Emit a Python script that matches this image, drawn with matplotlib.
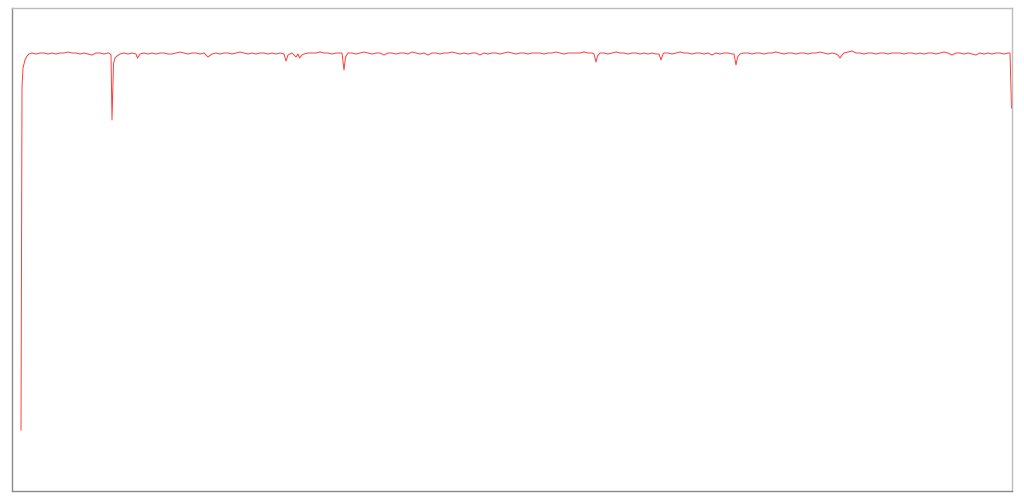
import numpy as np
import matplotlib
matplotlib.use("Agg")
import matplotlib.pyplot as plt

# signal trace (arbitrary units, x = sample position)
start_x = [9, 10, 11, 13, 15, 17]
start_y = [61, 404, 423, 431, 435, 437]

seg1_y = [438, 437, 438, 438, 437, 438, 437, 438, 438, 439,
          438, 438, 437, 438, 437, 436, 438, 438, 437, 438]          # 20..96
dip1_x = [97, 99, 100, 101.5, 103, 105]
dip1_y = [438, 436, 371, 427, 433, 435]
seg2_y = [437, 438, 437, 438]                                          # 108..120
dip2_x = [124, 125.5, 128]
dip2_y = [437, 433, 437]
seg3_y = [438, 437, 438, 437, 438, 438, 437, 437, 438, 439,
          438, 437, 438, 438, 437, 438]                                # 132..192
dip3_x = [196]
dip3_y = [434]
seg4_y = [437, 438, 437, 438, 438, 437, 438, 439, 438, 437,
          438, 437, 438, 438, 437, 438, 437, 438]                      # 200..268
dip4_x = [272, 274, 276, 280, 284, 286, 287.5, 290, 292, 296]
dip4_y = [437, 430, 436, 438, 434, 437, 433, 436, 437, 438]
seg5_y = [438, 438, 439, 438, 438, 437, 438, 438]                      # 300..328
dip5_x = [330, 332, 333.5, 336]
dip5_y = [438, 421, 434, 438]
seg6_y = [438, 437, 438, 439, 438, 437, 438, 438, 436, 438,
          438, 437, 438, 438, 437, 439, 438, 437, 438, 436,
          438, 438, 437, 438, 438, 439, 438, 437, 438, 437,
          438, 438, 436, 438, 437, 438, 438, 437, 438, 439,
          438, 437, 438, 438, 437, 438, 438, 438, 437, 438,
          438, 439, 438, 437, 438, 438, 438, 438, 439, 438,
          438]                                                         # 340..580
dip6_x = [582, 584, 585.5, 588]
dip6_y = [437, 429, 435, 438]
seg7_y = [438, 437, 438, 439, 438, 438, 437, 438, 438, 437,
          438, 437, 438, 437]                                          # 592..644
dip7_x = [647, 649, 651]
dip7_y = [437, 431, 437]
seg8_y = [438, 438, 437, 438, 439, 438, 438, 437, 438, 438,
          437, 438, 436, 438, 437, 438, 438, 437]                      # 652..720
dip8_x = [722, 724, 725.5, 728]
dip8_y = [437, 426, 434, 437]
seg9_y = [438, 438, 437, 438, 438, 437, 438, 438, 439, 438,
          437, 438, 438, 437, 438, 438, 437, 438, 438, 439,
          438, 437, 438, 437]                                          # 732..824
dip9_x = [826, 828, 830]
dip9_y = [436, 433, 436]
seg10_y = [438, 439, 440, 438, 438, 437, 438, 438, 437, 438,
           438, 437, 438, 438, 438, 437, 438, 438, 437, 438,
           437, 438, 438, 437, 438, 439, 438, 436, 438, 438,
           437, 438, 437, 436, 438, 437, 438, 437, 438, 438,
           437, 438]                                                   # 832..996
end_x = [998, 999.5]
end_y = [438, 383]

# (first x, values) for the evenly sampled stretches, step 4
pieces = [
    (start_x, start_y),
    (20, seg1_y), (dip1_x, dip1_y),
    (108, seg2_y), (dip2_x, dip2_y),
    (132, seg3_y), (dip3_x, dip3_y),
    (200, seg4_y), (dip4_x, dip4_y),
    (300, seg5_y), (dip5_x, dip5_y),
    (340, seg6_y), (dip6_x, dip6_y),
    (592, seg7_y), (dip7_x, dip7_y),
    (652, seg8_y), (dip8_x, dip8_y),
    (732, seg9_y), (dip9_x, dip9_y),
    (832, seg10_y), (end_x, end_y),
]

xs, ys = [], []
for px, vals in pieces:
    if np.isscalar(px):
        px = px + 4 * np.arange(len(vals))
    xs.extend(px)
    ys.extend(vals)

fig = plt.figure(figsize=(10.24, 5), dpi=100)
ax = fig.add_axes([12 / 1024, 9 / 500, 1000 / 1024, 483 / 500])
ax.plot(xs, ys, color='#ff3b3b', lw=0.7)
ax.set_xlim(0, 1000)
ax.set_ylim(0, 483)
ax.set_xticks([])
ax.set_yticks([])
for side in ['left', 'bottom']:
    ax.spines[side].set_color('#8a8a8a')
for side in ['top', 'right']:
    ax.spines[side].set_color('#bcbcbc')
for sp in ax.spines.values():
    sp.set_linewidth(1.0)

fig.savefig('out.png', dpi=100)
